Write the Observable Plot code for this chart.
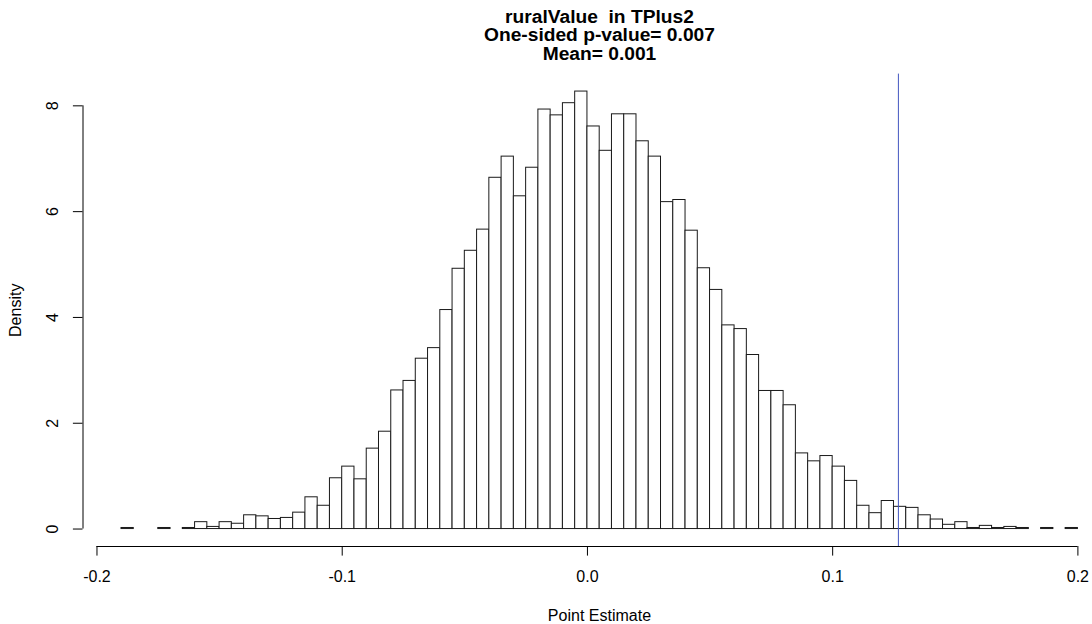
<!DOCTYPE html>
<html>
<head>
<meta charset="utf-8">
<script src="https://cdn.jsdelivr.net/npm/d3@7"></script>
<script src="https://cdn.jsdelivr.net/npm/@observablehq/plot@0.6"></script>
<style>
  html, body { margin: 0; padding: 0; background: #ffffff; }
</style>
</head>
<body>
<div id="chart"></div>
<script>
// ---- Data ----
const binWidth = 0.005;
const binStarts = [
  -0.190, -0.185, -0.180, -0.175, -0.170, -0.165, -0.160, -0.155, -0.150, -0.145,
  -0.140, -0.135, -0.130, -0.125, -0.120, -0.115, -0.110, -0.105, -0.100, -0.095,
  -0.090, -0.085, -0.080, -0.075, -0.070, -0.065, -0.060, -0.055, -0.050, -0.045,
  -0.040, -0.035, -0.030, -0.025, -0.020, -0.015, -0.010, -0.005,  0.000,  0.005,
   0.010,  0.015,  0.020,  0.025,  0.030,  0.035,  0.040,  0.045,  0.050,  0.055,
   0.060,  0.065,  0.070,  0.075,  0.080,  0.085,  0.090,  0.095,  0.100,  0.105,
   0.110,  0.115,  0.120,  0.125,  0.130,  0.135,  0.140,  0.145,  0.150,  0.155,
   0.160,  0.165,  0.170,  0.175,  0.180,  0.185,  0.190,  0.195
];
const densities = [
  0.02, 0.00, 0.00, 0.02, 0.00, 0.02, 0.13, 0.04, 0.13, 0.10,
  0.26, 0.24, 0.19, 0.21, 0.31, 0.60, 0.44, 0.96, 1.18, 0.94,
  1.52, 1.84, 2.62, 2.80, 3.22, 3.42, 4.14, 4.92, 5.26, 5.66,
  6.64, 7.04, 6.29, 6.83, 7.93, 7.82, 8.05, 8.27, 7.61, 7.15,
  7.84, 7.84, 7.33, 7.04, 6.18, 6.22, 5.64, 4.93, 4.52, 3.85,
  3.78, 3.29, 2.61, 2.61, 2.34, 1.43, 1.28, 1.38, 1.18, 0.91,
  0.44, 0.30, 0.53, 0.42, 0.40, 0.26, 0.18, 0.08, 0.13, 0.02,
  0.06, 0.02, 0.04, 0.02, 0.00, 0.02, 0.00, 0.02
];
const observedValue = 0.1268;
const xTicks = [-0.2, -0.1, 0.0, 0.1, 0.2];
const yTicks = [0, 2, 4, 6, 8];
const titleLines = ["ruralValue  in TPlus2", "One-sided p-value= 0.007", "Mean= 0.001"];
const xLabel = "Point Estimate";
const yLabel = "Density";

// ---- Table built from the arrays ----
const bins = binStarts.map((b, i) => ({ x1: b, x2: b + binWidth, density: densities[i] }));

// plot-region extents (R extends the data range by 4%)
const xDomain = [-0.2057, 0.2];
const yDomain = [-0.33, 8.6];

const font = "'Liberation Sans', Arial, Helvetica, sans-serif";

const chart = Plot.plot({
  width: 1092,
  height: 624,
  marginLeft: 82.5,
  marginRight: 14.6,
  marginTop: 73.6,
  marginBottom: 78,
  x: { domain: xDomain, label: null },
  y: { domain: yDomain, label: null },
  style: { fontFamily: font, background: "#ffffff", color: "#000" },
  marks: [
    Plot.rectY(bins, {
      x1: "x1", x2: "x2", y1: 0, y2: "density",
      fill: "#ffffff", stroke: "#1a1a1a", strokeWidth: 1
    }),
    Plot.ruleX([observedValue], { stroke: "#4356c0", strokeWidth: 1 }),
    // axis lines
    Plot.ruleY([yDomain[0]], { x1: xTicks[0], x2: xTicks[xTicks.length - 1], stroke: "#000" }),
    Plot.ruleX([xDomain[0]], { y1: yTicks[0], y2: yTicks[yTicks.length - 1], stroke: "#000" }),
    // ticks
    Plot.axisX({ ticks: xTicks, tickSize: 9.6, tickFormat: () => "", stroke: "#000", label: null }),
    Plot.axisY({ ticks: yTicks, tickSize: 9.6, tickFormat: () => "", stroke: "#000", label: null }),
    // tick labels
    Plot.text(xTicks, {
      x: d => d, frameAnchor: "bottom", dy: 30.7, lineAnchor: "middle",
      text: d => d.toFixed(1), fontSize: 16, fill: "#000"
    }),
    Plot.text(yTicks, {
      y: d => d, frameAnchor: "left", dx: -30, rotate: -90, lineAnchor: "middle", textAnchor: "middle",
      text: d => String(d), fontSize: 16, fill: "#000"
    }),
    // axis titles
    Plot.text([xLabel], {
      frameAnchor: "bottom", dx: 19, dy: 69, lineAnchor: "middle",
      text: d => d, fontSize: 16, fill: "#000"
    }),
    Plot.text([yLabel], {
      frameAnchor: "left", dx: -67, rotate: -90, lineAnchor: "middle", textAnchor: "middle",
      text: d => d, fontSize: 16, fill: "#000"
    }),
    // main title (three lines in one text element)
    Plot.text([titleLines.join("\n")], {
      frameAnchor: "top", dx: 19, dy: -38.5, lineAnchor: "middle", lineHeight: 0.95,
      text: d => d, fontSize: 19.2, fontWeight: "bold", fill: "#000"
    })
  ]
});

document.getElementById("chart").appendChild(chart);
</script>
</body>
</html>
